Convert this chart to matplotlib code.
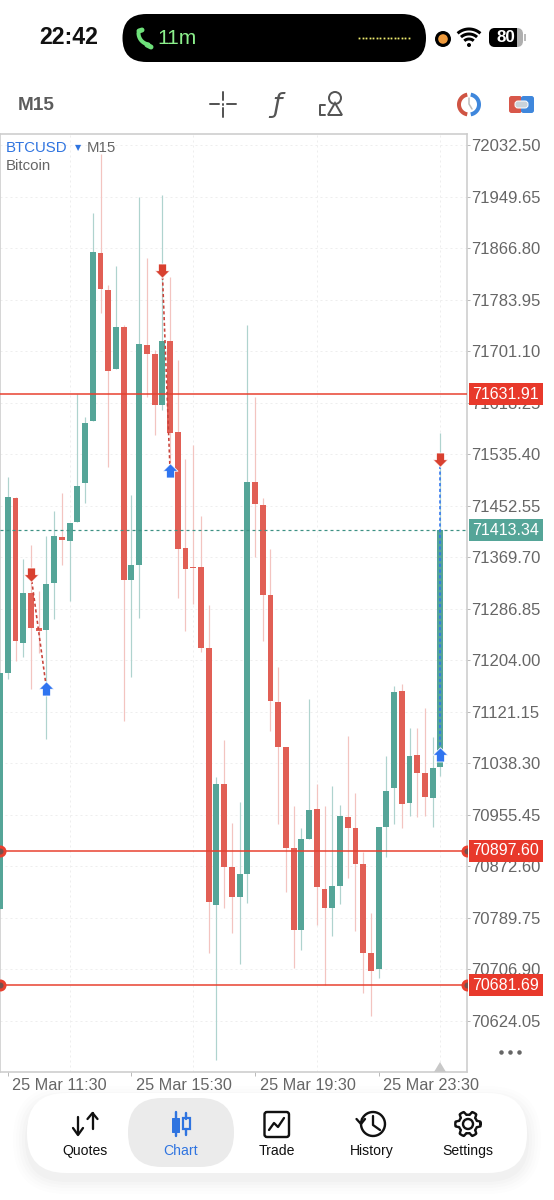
import numpy as np
import matplotlib as mpl
import matplotlib.pyplot as plt
from matplotlib.patches import FancyBboxPatch, Circle, Rectangle, Polygon
from matplotlib.path import Path
from matplotlib.transforms import ScaledTranslation

mpl.use("Agg")
plt.rcParams["font.family"] = ["Liberation Sans", "DejaVu Sans"]

# M15 candles, first one is the bar before 11:30
opens = [70804, 71184, 71465, 71232, 71312, 71256, 71253, 71328, 71402, 71396,
         71426, 71489, 71589, 71859, 71799, 71672, 71740, 71333, 71357, 71711,
         71696, 71614, 71717, 71571, 71384.5, 71354, 71354, 71224, 70810.5, 71005,
         70872, 70823, 70860, 71491, 71454, 71309, 71137, 71065, 70902, 70770,
         70917, 70965, 70836, 70806, 70841, 70952, 70934, 70876.5, 70733, 70708,
         70936, 70999, 71155, 70974.5, 71052, 71023, 70983, 71032]
closes = [71184, 71467, 71235, 71312, 71256, 71251, 71327, 71404, 71397, 71425,
          71484, 71586, 71860, 71801, 71669, 71740, 71333, 71357, 71712.5, 71696,
          71614, 71717, 71569, 71383, 71351, 71352, 71224, 70815, 71005, 70872,
          70823, 70860, 71491, 71455, 71309, 71139, 71065, 70902, 70770, 70917,
          70963, 70840, 70806, 70841, 70954, 70934, 70876.5, 70733, 70704, 70936,
          70994, 71153, 70973, 71050, 71023, 70984, 71031, 71413.34]
highs = [71184, 71499, 71466.5, 71367, 71389, 71315, 71404, 71444, 71473, 71425,
         71632, 71595, 71923, 72018, 71807, 71838, 71743, 71470, 71949, 71851,
         71703, 71952, 71820, 71687, 71528, 71550, 71436, 71293, 71016, 71076,
         70942, 70976, 71743, 71627, 71465, 71383, 71193, 71065, 70970, 70934,
         71142, 71005, 70970, 71002, 70971, 71082, 70991, 70896, 70798, 70936,
         71050, 71163, 71166, 71095, 71095, 71127, 71081, 71569]
lows = [70804, 71174, 71203, 71209, 71158, 71216, 71077, 71270, 71357, 71299,
        71426, 71457, 71589, 71762, 71515, 71672, 71106, 71177, 71272, 71627,
        71566, 71606, 71518, 71304, 71251, 71294.5, 71217, 70733, 70561, 70806,
        70766, 70716, 70814, 71370, 71235, 71090, 70941, 70831, 70709, 70738,
        70917, 70778, 70682, 70761, 70812, 70854, 70769, 70669, 70632, 70693,
        70888, 70941, 70934, 70954, 70952, 70954, 70936, 71018]

price_ticks = [72032.50, 71949.65, 71866.80, 71783.95, 71701.10, 71618.25,
               71535.40, 71452.55, 71369.70, 71286.85, 71204.00, 71121.15,
               71038.30, 70955.45, 70872.60, 70789.75, 70706.90, 70624.05]
time_bars = [0, 16, 32, 48]
time_labels = ["25 Mar 11:30", "25 Mar 15:30", "25 Mar 19:30", "25 Mar 23:30"]

level_top = 71631.91
level_mid = 70897.60
level_low = 70681.69
last_price = 71413.34

# (bar, price) of trade entry and exit arrows
trades = [((3, 71341), (5, 71159), "#C9433A"),
          ((20, 71830), (21, 71510), "#C9433A"),
          ((56, 71526), (56, 71053), "#2F74F0")]

nav_names = ["Quotes", "Chart", "Trade", "History", "Settings"]
nav_x = [85, 181, 277, 372, 468]

GREEN = "#55A598"
RED = "#E15F55"
GREEN_W = "#AFD3CE"
RED_W = "#F3C4C0"
LEVEL = "#E8402F"
BLUE = "#2F74F0"
GREY = "#666666"
ICON = "#555555"


def px(n):
    return n * 0.72


bars = np.arange(-1, len(opens) - 1)
opens_a, closes_a = np.array(opens), np.array(closes)
up = closes_a >= opens_a

fig = plt.figure(figsize=(5.54, 12), dpi=100, facecolor="white")
ax = fig.add_axes([0, 1 - 1072 / 1200, 467 / 554, (1072 - 134) / 1200], zorder=1)
ax.set_xlim(-1.01, 59.44)
ax.set_ylim(70542.1, 72050.2)

ax.vlines(bars[up], np.array(lows)[up], np.array(highs)[up], color=GREEN_W, lw=px(1.2), zorder=2)
ax.vlines(bars[~up], np.array(lows)[~up], np.array(highs)[~up], color=RED_W, lw=px(1.2), zorder=2)
ax.bar(bars[up], (closes_a - opens_a)[up], bottom=opens_a[up], width=0.76, color=GREEN, zorder=3)
ax.bar(bars[~up], (opens_a - closes_a)[~up], bottom=closes_a[~up], width=0.76, color=RED, zorder=3)

for lev in [level_top, level_mid, level_low]:
    ax.axhline(lev, color=LEVEL, lw=px(1.6), alpha=0.95, zorder=4)
ax.axhline(last_price, color="#3E9184", lw=px(1.2), dashes=(2.5, 2.5), zorder=4)

for lev in [level_mid, level_low]:
    for side in [0, 1]:
        ax.plot([side], [lev], "o", ms=px(12), color=LEVEL, mew=0, zorder=5,
                transform=ax.get_yaxis_transform())
        ax.plot([side], [lev], "o", ms=px(6), color="#77504C", mew=0, zorder=5,
                transform=ax.get_yaxis_transform())

# house shaped arrows
down_arrow = Path([(-.55, 1), (.55, 1), (.55, .1), (1, .1), (0, -.9), (-1, .1), (-.55, .1), (-.55, 1)], closed=True)
up_arrow = Path([(-.55, -1), (.55, -1), (.55, -.1), (1, -.1), (0, .9), (-1, -.1), (-.55, -.1), (-.55, -1)], closed=True)
for start, end, col in trades:
    ax.plot([start[0], end[0]], [start[1], end[1]], color=col, lw=px(1.6), dashes=(2, 1.6), zorder=6)
    ax.plot(*start, marker=down_arrow, ms=px(15), color="#D8402F", mec="white", mew=px(0.8), zorder=7)
    ax.plot(*end, marker=up_arrow, ms=px(15), color=BLUE, mec="white", mew=px(0.8), zorder=7)

# axes, ticks, grid
ax.yaxis.tick_right()
ax.set_yticks(price_ticks)
ax.set_yticklabels(["%.2f" % p for p in price_ticks], fontsize=px(16.6), color=GREY)
ax.set_xticks(time_bars)
ax.set_xticklabels(time_labels, fontsize=px(16.2), color=GREY, ha="left")
ax.tick_params(axis="y", length=px(3), width=px(1), color="#BBBBBB", pad=px(1.5))
ax.tick_params(axis="x", length=px(4), width=px(1), color="#BBBBBB", pad=px(1.5))
ax.set_xticks(np.arange(0, 60, 8), minor=True)
ax.tick_params(axis="x", which="minor", length=0)
ax.grid(True, which="minor", axis="x", color="#EEEEEE", lw=px(1), dashes=(2, 3))
ax.grid(True, which="major", axis="y", color="#EEEEEE", lw=px(1), dashes=(2, 3))
ax.set_axisbelow(True)
shift = ScaledTranslation(4.6 / 100, 0, fig.dpi_scale_trans)
for lab in ax.get_xticklabels():
    lab.set_transform(lab.get_transform() + shift)
for s in ax.spines.values():
    s.set_color("#CDCDCD")
    s.set_linewidth(px(1.6))

for lev, col, txt in [(level_top, "#E8392B", "71631.91"), (last_price, GREEN, "71413.34"),
                      (level_mid, "#E8392B", "70897.60"), (level_low, "#E8392B", "70681.69")]:
    ax.text(1.0118, lev, txt, transform=ax.get_yaxis_transform(), color="white",
            fontsize=px(16), va="center", ha="left", zorder=20,
            bbox=dict(boxstyle="square,pad=0.22", fc=col, ec="none"))

# phone screen furniture, one unit is one pixel
ui = fig.add_axes([0, 0, 1, 1], zorder=2)
ui.set_xlim(0, 554)
ui.set_ylim(1200, 0)
ui.axis("off")
ui.patch.set_alpha(0)


def pill(x0, y0, x1, y1, r, **kw):
    p = FancyBboxPatch((x0 + r, y0 + r), x1 - x0 - 2 * r, y1 - y0 - 2 * r,
                       boxstyle="round,pad=%g,rounding_size=%g" % (r, r), **kw)
    ui.add_patch(p)
    return p


def arc(cx, cy, r, a0, a1, **kw):
    a = np.radians(np.linspace(a0, a1, 40))
    ui.plot(cx + r * np.cos(a), cy - r * np.sin(a), **kw)


def seg(xs, ys, col=ICON, lw=2.2, **kw):
    ui.plot(xs, ys, color=col, lw=px(lw), solid_capstyle=kw.pop("cap", "round"), **kw)


# status bar
ui.text(69, 38, "22:42", fontsize=px(23), weight="bold", color="#111111", ha="center", va="center")
pill(122.5, 14, 426, 62, 24, fc="black", ec="none")
ui.text(157, 39, "11m", fontsize=px(21), color="#8CF08C", ha="left", va="center")
arc(150, 33, 11.5, 180, 262, color="#6EE07A", lw=px(4), solid_capstyle="round")
ui.plot([139, 142], [31, 30], color="#6EE07A", lw=px(5), solid_capstyle="round")
ui.plot([147, 151], [45, 47], color="#6EE07A", lw=px(5), solid_capstyle="round")
ui.plot(np.linspace(359, 409, 15), [38] * 15, ls="none", marker="s", ms=px(1.8), color="#F1EE70", mew=0)
ui.add_patch(Circle((443, 39), 8, fc="black", ec="none"))
ui.add_patch(Circle((443, 39), 4.8, fc="#EF9A3C", ec="none"))
for r, lw in [(7, 3), (12, 3), (17, 3)]:
    arc(469, 46, r, 48, 132, color="black", lw=px(lw), solid_capstyle="butt")
ui.add_patch(Circle((469, 45), 2, fc="black", ec="none"))
pill(489, 28, 523, 47, 6, fc="#AFAFAF", ec="none")
pill(489, 28, 516, 47, 6, fc="black", ec="none")
ui.add_patch(Rectangle((511, 28), 6, 19, fc="black", ec="none"))
ui.text(506, 38, "80", color="white", fontsize=px(17), weight="bold", ha="center", va="center")
ui.add_patch(Rectangle((524, 34), 2, 7, fc="#BBBBBB", ec="none"))

# toolbar
ui.text(18, 105, "M15", fontsize=px(19), weight="bold", color="#5C5C5C", ha="left", va="center")
seg([210, 219], [104, 104], lw=2)
seg([227, 236], [104, 104], lw=2)
seg([223, 223], [92, 100], lw=2)
seg([223, 223], [108, 117], lw=2)
seg([223, 223], [103.5, 104.5], lw=2)
ui.text(277, 105, "\u0192", family="DejaVu Sans", style="italic", fontsize=px(27), color=ICON, ha="center", va="center")
ui.add_patch(Circle((335, 98), 6, fc="none", ec=ICON, lw=px(2)))
ui.add_patch(Polygon([(335, 103), (328, 115), (342, 115)], closed=True, fc="none", ec=ICON, lw=px(2)))
seg([325, 320, 320, 325], [105, 105, 115, 115], lw=2)
arc(469, 104.5, 10, 100, 260, color="#CF5443", lw=px(4), solid_capstyle="butt")
arc(469, 104.5, 10, -80, 80, color="#3F87DC", lw=px(4), solid_capstyle="butt")
seg([469, 469, 472], [98, 104, 109], col="#BBBBBB", lw=1.5)
pill(509, 96, 522, 113, 2.5, fc="#D8574A", ec="none")
pill(521, 96, 534, 113, 2.5, fc="#3F87DC", ec="none")
pill(515, 101, 528, 108, 3, fc="#C9D2DA", ec="#FFFFFF", lw=px(1))

# chart caption and corner marks
ui.text(6, 147.5, "BTCUSD", fontsize=px(15), color="#2F74E0", ha="left", va="center")
ui.text(78, 147.5, "\u25BC", family="DejaVu Sans", fontsize=px(8), color="#2F74E0", ha="center", va="center")
ui.text(87, 147.5, "M15", fontsize=px(15), color=GREY, ha="left", va="center")
ui.text(6, 166, "Bitcoin", fontsize=px(15), color=GREY, ha="left", va="center")
ui.add_patch(Polygon([(434, 1072), (446, 1072), (440, 1062)], closed=True, fc="#C8C8C8", ec="none"))
ui.plot([501, 510, 519], [1052, 1052, 1052], ls="none", marker="o", ms=px(4.5), color="#666666", mew=0)

# bottom navigation
for g, a in [(14, .006), (11, .008), (8, .010), (5, .012), (2, .014)]:
    pill(27 - g, 1093 - g + 7, 527 + g, 1173 + g + 7, 39 + g, fc="black", ec="none", alpha=a)
pill(27, 1093, 527, 1173, 39, fc="white", ec="none")
pill(128, 1098, 234, 1167, 34, fc="#EBEBEB", ec="none")
for name, x in zip(nav_names, nav_x):
    col = "#2F74E0" if name == "Chart" else "#111111"
    ui.text(x, 1151, name, fontsize=px(14), color=col, ha="center", va="center")

K = "#111111"
# Quotes
seg([78, 78], [1117, 1134], K, 2.3)
seg([73, 78, 83], [1128, 1135, 1128], K, 2.3)
seg([92.5, 92.5], [1113, 1129], K, 2.3)
seg([87.5, 92.5, 97.5], [1119, 1113, 1119], K, 2.3)
# Chart
seg([175.5, 175.5], [1112, 1136], "#2F74E0", 2.4)
ui.add_patch(Rectangle((172, 1118), 7, 14, fc="#2F74E0", ec="#2F74E0", lw=px(1)))
seg([186, 186], [1113, 1119], "#2F74E0", 2.4)
seg([186, 186], [1129, 1135], "#2F74E0", 2.4)
ui.add_patch(Rectangle((182.5, 1118), 7, 11, fc="none", ec="#2F74E0", lw=px(2.2)))
# Trade
pill(264.5, 1112, 289, 1137, 2.5, fc="none", ec=K, lw=px(2.4))
seg([269, 274, 278, 284], [1130, 1123, 1127, 1118], K, 2.3)
# History
arc(373, 1124, 12, -200, 150, color=K, lw=px(2.4))
seg([356.5, 361, 365], [1119, 1124, 1119], K, 2.3)
seg([373, 373, 380], [1116, 1125, 1130], K, 2.3)
# Settings
t = np.radians(np.arange(0, 360, 1))
gear_r = 11 + 1.7 * np.clip(2.2 * np.cos(6 * t), -1, 1)
ui.plot(468 + gear_r * np.cos(t), 1124 + gear_r * np.sin(t), color=K, lw=px(2.4))
ui.add_patch(Circle((468, 1124), 5, fc="none", ec=K, lw=px(2.4)))

fig.savefig("out.png", dpi=100)
